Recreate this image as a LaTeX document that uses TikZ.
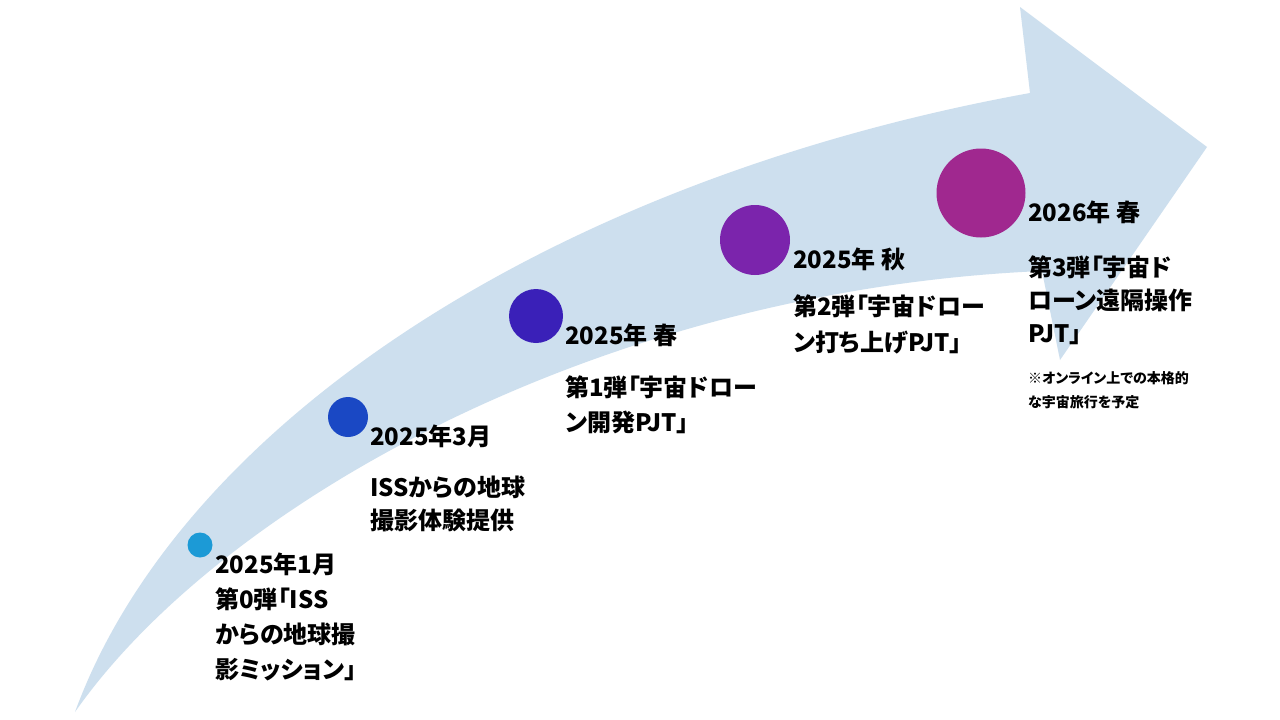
\documentclass[tikz,border=0pt]{standalone}
\usepackage{fontspec}
\newfontfamily\jp{Noto Sans CJK JP}[RawFeature=+palt]
\definecolor{arrowfill}{RGB}{205,223,238}
\definecolor{cA}{RGB}{28,154,214}
\definecolor{cB}{RGB}{26,72,196}
\definecolor{cC}{RGB}{58,32,184}
\definecolor{cD}{RGB}{123,36,172}
\definecolor{cE}{RGB}{160,40,143}
\begin{document}
\begin{tikzpicture}[x=1pt,y=-1pt,
  dot/.style={circle, inner sep=0pt, draw=none},
  datetxt/.style={anchor=base west, inner sep=0pt, font=\jp\bfseries\fontsize{24}{24}\selectfont},
  desctxt/.style={anchor=base west, inner sep=0pt, align=left, font=\jp\bfseries\fontsize{24}{34}\selectfont},
  notetxt/.style={anchor=base west, inner sep=0pt, align=left, font=\jp\bfseries\fontsize{14}{24}\selectfont}]
\useasboundingbox (0,0) rectangle (1280,720);
\fill[white] (0,0) rectangle (1280,720);
% big curved arrow
\coordinate (tail) at (75,712);
\coordinate (neckU) at (1030,93);
\coordinate (barbU) at (1020,7);
\coordinate (tip) at (1207,147);
\coordinate (barbL) at (1060,360);
\coordinate (neckL) at (1042,271);
\fill[arrowfill] (tail) .. controls (180,425) and (550,180) .. (neckU)
  -- (barbU) -- (tip) -- (barbL) -- (neckL)
  .. controls (600,290) and (220,505) .. (tail)
  -- cycle;
% milestones
\node[dot, fill=cA, minimum size=25pt] (d1) at (200,545) {};
\node[dot, fill=cB, minimum size=40pt] (d2) at (348,417) {};
\node[dot, fill=cC, minimum size=54pt] (d3) at (536,316) {};
\node[dot, fill=cD, minimum size=70pt] (d4) at (755,240) {};
\node[dot, fill=cE, minimum size=89pt] (d5) at (981,193) {};
% texts (base anchor = baseline of the last line)
\node[desctxt, font=\jp\bfseries\fontsize{24}{35}\selectfont] (t1) at (215,678) {2025年1月\\第0弾「ISS\\からの地球撮\\影ミッション」};
\node[datetxt] (t2) at (370,445) {2025年3月};
\node[desctxt, font=\jp\bfseries\fontsize{24}{33}\selectfont] (s2) at (370,529) {ISSからの地球\\撮影体験提供};
\node[datetxt] (t3) at (565,344) {2025年 春};
\node[desctxt, font=\jp\bfseries\fontsize{24}{35}\selectfont] (s3) at (565,431) {第1弾「宇宙ドロー\\ン開発PJT」};
\node[datetxt] (t4) at (793,268) {2025年 秋};
\node[desctxt, font=\jp\bfseries\fontsize{24}{36}\selectfont] (s4) at (793,351) {第2弾「宇宙ドロー\\ン打ち上げPJT」};
\node[datetxt] (t5) at (1028,221) {2026年 春};
\node[desctxt, font=\jp\bfseries\fontsize{24}{33}\selectfont] (s5) at (1028,342) {第3弾「宇宙ド\\ローン遠隔操作\\PJT」};
\node[notetxt] (n5) at (1028,407) {※オンライン上での本格的\\な宇宙旅行を予定};
\end{tikzpicture}
\end{document}
